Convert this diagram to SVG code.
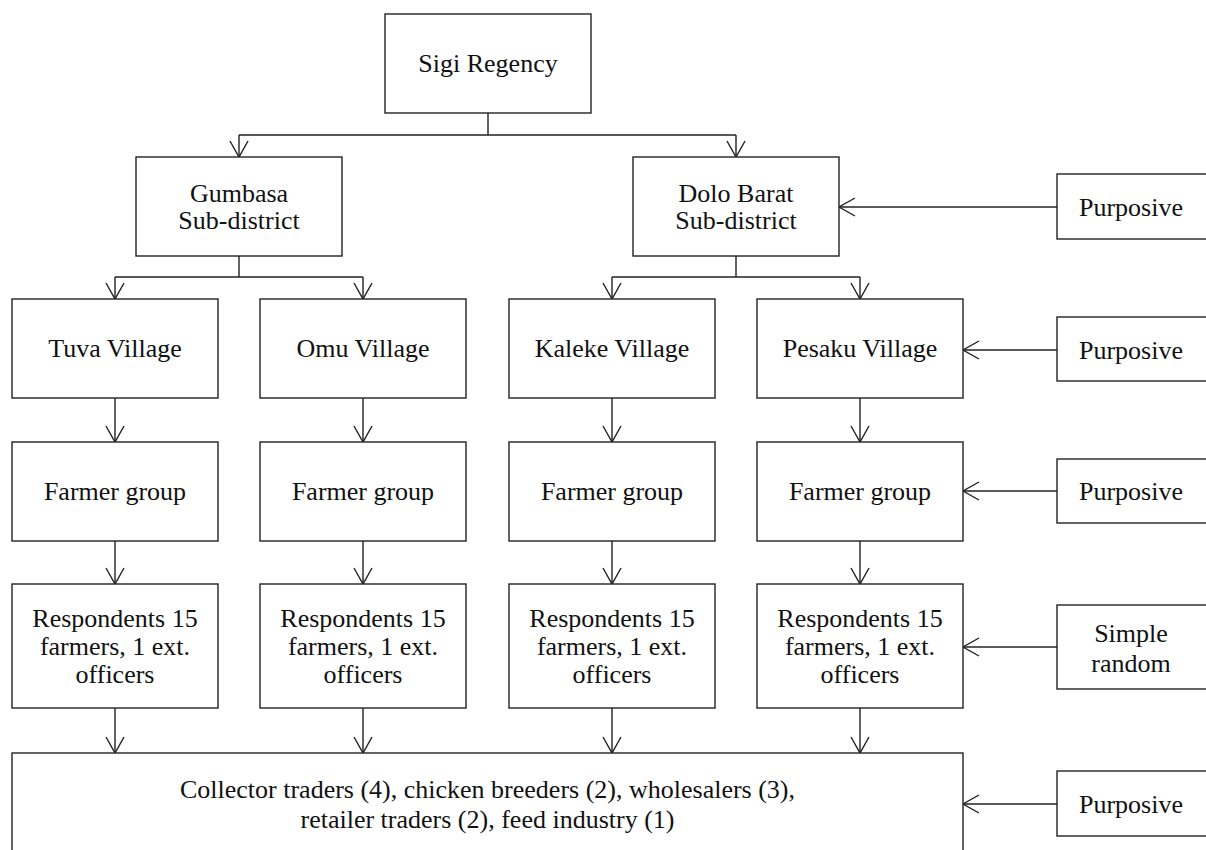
<svg xmlns="http://www.w3.org/2000/svg" width="1206" height="850" viewBox="0 0 1206 850">
<defs>
<style>
.box{fill:#fff;stroke:#222;stroke-width:1.4}
.t{font-family:"Liberation Serif","Times New Roman",serif;font-size:26px;fill:#111;text-anchor:middle}
.c{fill:none;stroke:#222;stroke-width:1.4}
.a{fill:none;stroke:#222;stroke-width:1.4;marker-end:url(#arr)}
</style>
<marker id="arr" markerUnits="userSpaceOnUse" markerWidth="24" markerHeight="24" viewBox="-20 -12 24 24" refX="0" refY="0" orient="auto">
<path d="M-16,-9 L0,0 L-16,9" fill="none" stroke="#222" stroke-width="1.4"/>
</marker>
</defs>
<rect width="1206" height="850" fill="#fff"/>
<g id="connectors">
<path class="c" d="M488,113 V135 M239,135 H736"/>
<path class="a" d="M239,135 V157"/>
<path class="a" d="M736,135 V157"/>
<path class="c" d="M239,256 V277 M115,277 H363"/>
<path class="a" d="M115,277 V299"/>
<path class="a" d="M363,277 V299"/>
<path class="c" d="M736,256 V277 M612,277 H860"/>
<path class="a" d="M612,277 V299"/>
<path class="a" d="M860,277 V299"/>
<path class="a" d="M115,398 V442"/>
<path class="a" d="M363,398 V442"/>
<path class="a" d="M612,398 V442"/>
<path class="a" d="M860,398 V442"/>
<path class="a" d="M115,541 V584"/>
<path class="a" d="M363,541 V584"/>
<path class="a" d="M612,541 V584"/>
<path class="a" d="M860,541 V584"/>
<path class="a" d="M115,708 V753"/>
<path class="a" d="M363,708 V753"/>
<path class="a" d="M612,708 V753"/>
<path class="a" d="M860,708 V753"/>
<path class="a" d="M1057,207 H839"/>
<path class="a" d="M1057,350 H963"/>
<path class="a" d="M1057,491 H963"/>
<path class="a" d="M1057,647 H963"/>
<path class="a" d="M1057,804 H963"/>
</g>
<g id="sigi"><rect class="box" x="385" y="14" width="206" height="99"/><text class="t" x="488" y="72">Sigi Regency</text></g>
<g id="gumbasa"><rect class="box" x="136" y="157" width="206" height="99"/><text class="t" x="239" y="202">Gumbasa</text><text class="t" x="239" y="229">Sub-district</text></g>
<g id="dolo"><rect class="box" x="633" y="157" width="206" height="99"/><text class="t" x="736" y="202">Dolo Barat</text><text class="t" x="736" y="229">Sub-district</text></g>
<g id="tuva"><rect class="box" x="12" y="299" width="206" height="99"/><text class="t" x="115" y="357">Tuva Village</text></g>
<g id="omu"><rect class="box" x="260" y="299" width="206" height="99"/><text class="t" x="363" y="357">Omu Village</text></g>
<g id="kaleke"><rect class="box" x="509" y="299" width="206" height="99"/><text class="t" x="612" y="357">Kaleke Village</text></g>
<g id="pesaku"><rect class="box" x="757" y="299" width="206" height="99"/><text class="t" x="860" y="357">Pesaku Village</text></g>
<g id="fg1"><rect class="box" x="12" y="442" width="206" height="99"/><text class="t" x="115" y="500">Farmer group</text></g>
<g id="fg2"><rect class="box" x="260" y="442" width="206" height="99"/><text class="t" x="363" y="500">Farmer group</text></g>
<g id="fg3"><rect class="box" x="509" y="442" width="206" height="99"/><text class="t" x="612" y="500">Farmer group</text></g>
<g id="fg4"><rect class="box" x="757" y="442" width="206" height="99"/><text class="t" x="860" y="500">Farmer group</text></g>
<g id="r1"><rect class="box" x="12" y="584" width="206" height="124"/><text class="t" x="115" y="627">Respondents 15</text><text class="t" x="115" y="655">farmers, 1 ext.</text><text class="t" x="115" y="683">officers</text></g>
<g id="r2"><rect class="box" x="260" y="584" width="206" height="124"/><text class="t" x="363" y="627">Respondents 15</text><text class="t" x="363" y="655">farmers, 1 ext.</text><text class="t" x="363" y="683">officers</text></g>
<g id="r3"><rect class="box" x="509" y="584" width="206" height="124"/><text class="t" x="612" y="627">Respondents 15</text><text class="t" x="612" y="655">farmers, 1 ext.</text><text class="t" x="612" y="683">officers</text></g>
<g id="r4"><rect class="box" x="757" y="584" width="206" height="124"/><text class="t" x="860" y="627">Respondents 15</text><text class="t" x="860" y="655">farmers, 1 ext.</text><text class="t" x="860" y="683">officers</text></g>
<g id="traders"><rect class="box" x="12" y="753" width="951" height="120"/><text class="t" x="487.5" y="798">Collector traders (4), chicken breeders (2), wholesalers (3),</text><text class="t" x="487.5" y="828">retailer traders (2), feed industry (1)</text></g>
<g id="p1"><rect class="box" x="1057" y="174" width="170" height="65"/><text class="t" x="1131" y="216">Purposive</text></g>
<g id="p2"><rect class="box" x="1057" y="317" width="170" height="64"/><text class="t" x="1131" y="359">Purposive</text></g>
<g id="p3"><rect class="box" x="1057" y="459" width="170" height="64"/><text class="t" x="1131" y="500">Purposive</text></g>
<g id="sr"><rect class="box" x="1057" y="605" width="170" height="84"/><text class="t" x="1131" y="642">Simple</text><text class="t" x="1131" y="672">random</text></g>
<g id="p5"><rect class="box" x="1057" y="771" width="170" height="65"/><text class="t" x="1131" y="813">Purposive</text></g>
</svg>
